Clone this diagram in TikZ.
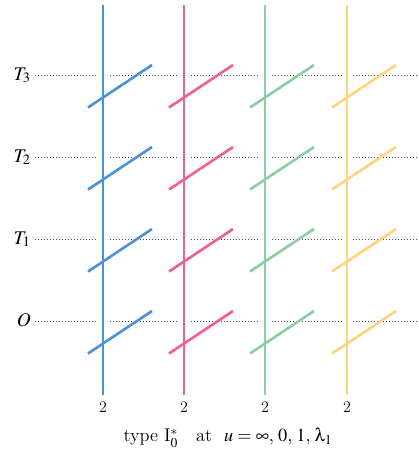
\documentclass[tikz,border=0pt]{standalone}
\usepackage{mathptmx}
\usepackage{pifont}
\definecolor{cA}{RGB}{78,146,214}
\definecolor{cB}{RGB}{238,96,150}
\definecolor{cC}{RGB}{140,205,163}
\definecolor{cD}{RGB}{255,212,128}
\begin{document}
\begin{tikzpicture}[x=0.75pt,y=-0.75pt,
  fiber/.style={line width=2.15pt, line cap=butt},
  comp/.style={line width=2pt},
  level/.style={line width=0.6pt, dash pattern=on 0.75pt off 1.5pt, black!70},
  halo/.style={line width=8pt, white},
  lab/.style={font=\fontsize{14.5}{17}\selectfont, anchor=base east, inner sep=0pt},
  mult/.style={font=\fontsize{12}{13}\selectfont, inner sep=0pt},
  capt/.style={font=\fontsize{13.8}{16}\selectfont, inner sep=0pt}]
\useasboundingbox (0,0) rectangle (418,457);
% levels
\foreach \y/\n/\t in {75/L3/T_3,157/L2/T_2,239/L1/T_1,321/L0/O}{
  \node[lab] (\n) at (31,\y+5) {$\t$};
  \coordinate (\n s) at (35,\y);
  \coordinate (\n e) at (418,\y);
  \draw[level] (\n s) -- (\n e);
}
% fibres
\foreach \x/\k in {103/a,184/b,265/c,347/d}{
  \coordinate (\k t) at (\x,5);
  \coordinate (\k b) at (\x,395);
  \draw[halo] (\k t) -- (\k b);
}
\foreach \x/\c/\k in {103/cA/a,184/cB/b,265/cC/c,347/cD/d}{
  \foreach \y/\n in {75/L3,157/L2,239/L1,321/L0}{
    \coordinate (\k\n p) at (\x-15,\y+32.5);
    \coordinate (\k\n q) at (\x+49,\y-10);
    \draw[comp,\c] (\k\n p) -- (\k\n q);
  }
  \draw[fiber,\c] (\k t) -- (\k b);
  \node[mult] (\k m) at (\x,407) {2};
}
\node[capt] (cap) at (228,438) {type I$_0^*$\ \ \ at\ \ $u=\infty,\,0,\,1,\,\mbox{\Pisymbol{psy}{108}}_1$};
\end{tikzpicture}
\end{document}
